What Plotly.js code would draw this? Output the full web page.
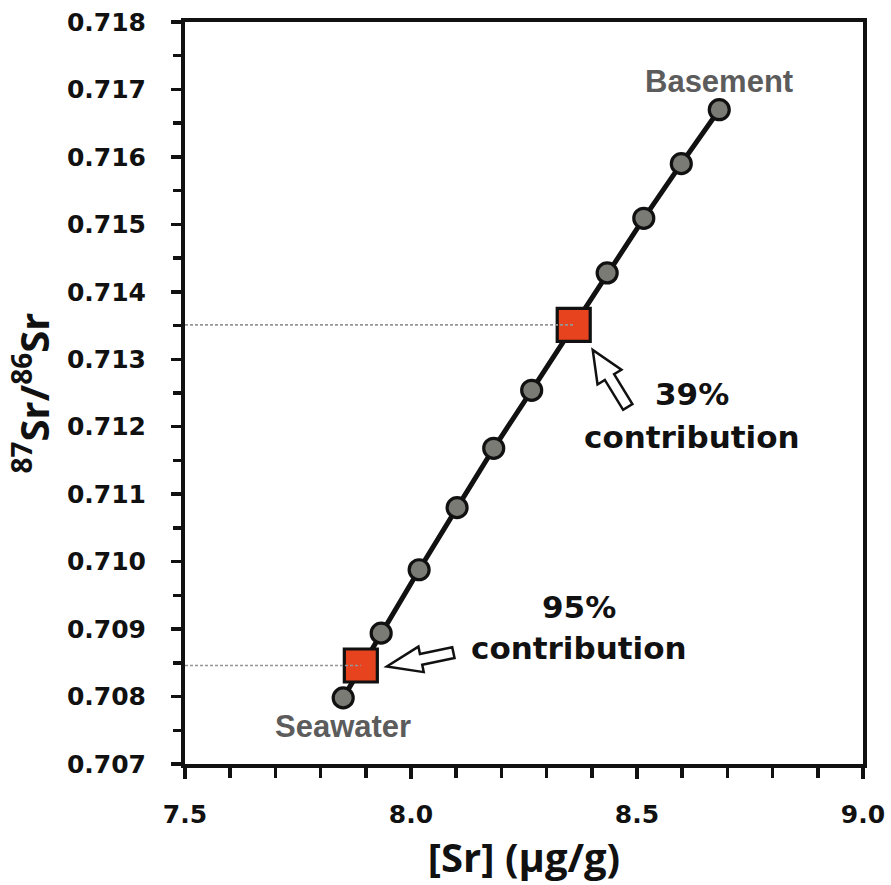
<!DOCTYPE html>
<html>
<head>
<meta charset="utf-8">
<script src="https://cdn.plot.ly/plotly-3.0.1.min.js"></script>
<style>html,body{margin:0;padding:0;background:#fff;}</style>
</head>
<body>
<div id="chart" style="width:891px;height:885px;"></div>
<script>
// Mixing curve points (seawater -> basement)
var mixX = [7.850, 7.934, 8.018, 8.102, 8.183, 8.267, 8.434, 8.515, 8.598, 8.682];
var mixY = [0.70798, 0.70894, 0.70988, 0.71080, 0.71168, 0.71254, 0.71428, 0.71509, 0.71590, 0.71670];
// Sample (red square) positions
var sampleX = [7.889, 8.360];
var sampleY = [0.70846, 0.71351];
var contribLabels = ['95%', '39%'];
var xTickVals = [7.5, 8.0, 8.5, 9.0];
var xTickText = ['7.5', '8.0', '8.5', '9.0'];
var yTickVals = [0.707, 0.708, 0.709, 0.710, 0.711, 0.712, 0.713, 0.714, 0.715, 0.716, 0.717, 0.718];
var yTickText = ['0.707', '0.708', '0.709', '0.710', '0.711', '0.712', '0.713', '0.714', '0.715', '0.716', '0.717', '0.718'];

var traces = [
  {x: mixX, y: mixY, mode: 'lines+markers', type: 'scatter',
   line: {color: '#111', width: 5},
   marker: {size: 20, color: '#7b7b76', line: {color: '#111', width: 3.2}},
   hoverinfo: 'x+y', showlegend: false},
  {x: sampleX, y: sampleY, mode: 'markers', type: 'scatter',
   marker: {symbol: 'square', size: 33, color: '#e8431f', line: {color: '#111', width: 3.2}},
   showlegend: false}
];
for (var i = 0; i < sampleX.length; i++) {
  traces.push({x: [7.5, sampleX[i]], y: [sampleY[i], sampleY[i]], mode: 'lines', type: 'scatter',
    line: {color: '#959595', width: 1.6, dash: '3px,2px'}, showlegend: false, hoverinfo: 'skip'});
}

// hollow block arrow, geometry in pixels relative to an anchor point
function arrowPath(tx, ty, dx, dy, L, H, W, w) {
  var n = Math.sqrt(dx*dx + dy*dy); dx /= n; dy /= n;
  var nx = -dy, ny = dx;
  var pts = [
    [tx, ty],
    [tx + dx*H + nx*W, ty + dy*H + ny*W],
    [tx + dx*H + nx*w, ty + dy*H + ny*w],
    [tx + dx*L + nx*w, ty + dy*L + ny*w],
    [tx + dx*L - nx*w, ty + dy*L - ny*w],
    [tx + dx*H - nx*w, ty + dy*H - ny*w],
    [tx + dx*H - nx*W, ty + dy*H - ny*W]
  ];
  return 'M' + pts.map(function(p){ return p[0].toFixed(1) + ',' + (-p[1]).toFixed(1); }).join(' L') + ' Z';
}
var arrowSpecs = [
  {tx: 26, ty: 1, dx: 67, dy: -14, L: 68, H: 35, W: 13, w: 5.5},
  {tx: 19, ty: 25, dx: 35, dy: 57, L: 67, H: 32, W: 14, w: 5.5}
];
var shapes = arrowSpecs.map(function(a, i) {
  return {type: 'path', xref: 'x', yref: 'y', xsizemode: 'pixel', ysizemode: 'pixel',
    xanchor: sampleX[i], yanchor: sampleY[i],
    path: arrowPath(a.tx, a.ty, a.dx, a.dy, a.L, a.H, a.W, a.w),
    fillcolor: '#fff', line: {color: '#111', width: 2.5}, layer: 'above'};
});

var blackFont = {family: 'DejaVu Sans', size: 31, color: '#111', weight: 'bold'};
var grayFont = {family: 'Liberation Sans, Arial', size: 31, color: '#5c5c5c', weight: 'bold'};
var annotations = [
  {x: mixX[mixX.length-1], y: mixY[mixY.length-1], text: '<b>Basement</b>', showarrow: false, xref: 'x', yref: 'y', yshift: 28, font: grayFont},
  {x: mixX[0], y: mixY[0], text: '<b>Seawater</b>', showarrow: false, xref: 'x', yref: 'y', yshift: -29, font: grayFont},
  {x: sampleX[1], y: sampleY[1], text: '<b>' + contribLabels[1] + '</b>', showarrow: false, xref: 'x', yref: 'y', xshift: 118, yshift: -69, font: blackFont},
  {x: sampleX[1], y: sampleY[1], text: '<b>contribution</b>', showarrow: false, xref: 'x', yref: 'y', xshift: 118, yshift: -112, font: blackFont},
  {x: sampleX[0], y: sampleY[0], text: '<b>' + contribLabels[0] + '</b>', showarrow: false, xref: 'x', yref: 'y', xshift: 218, yshift: 59, font: blackFont},
  {x: sampleX[0], y: sampleY[0], text: '<b>contribution</b>', showarrow: false, xref: 'x', yref: 'y', xshift: 218, yshift: 18, font: blackFont}
];

var tickFont = {family: 'DejaVu Sans', size: 25, color: '#111', weight: 'bold'};
var layout = {
  width: 891, height: 885,
  margin: {l: 185, r: 28, t: 22, b: 121},
  paper_bgcolor: '#fff', plot_bgcolor: '#fff',
  showlegend: false,
  xaxis: {
    range: [7.5, 9.0], tickvals: xTickVals, ticktext: xTickText,
    showgrid: false, zeroline: false,
    showline: true, linecolor: '#111', linewidth: 4, mirror: true,
    ticks: 'outside', ticklen: 11, tickwidth: 3.5, tickcolor: '#111',
    minor: {dtick: 0.1, tick0: 7.5, ticks: 'outside', ticklen: 10, tickwidth: 3.5, tickcolor: '#111', showgrid: false},
    tickfont: tickFont, ticklabelstandoff: 14,
    title: {text: '<b>[Sr] (µg/g)</b>', font: {family: 'Open Sans', size: 40, color: '#111'}, standoff: 6}
  },
  yaxis: {
    range: [0.707, 0.718], tickvals: yTickVals, ticktext: yTickText,
    showgrid: false, zeroline: false,
    showline: true, linecolor: '#111', linewidth: 4, mirror: true,
    ticks: 'outside', ticklen: 10, tickwidth: 3.5, tickcolor: '#111',
    minor: {dtick: 0.0005, tick0: 0.707, ticks: 'outside', ticklen: 8, tickwidth: 3.5, tickcolor: '#111', showgrid: false},
    tickfont: tickFont, ticklabelstandoff: 20,
    title: {text: '<b><sup>87</sup>Sr/<sup>86</sup>Sr</b>', font: {family: 'Open Sans', size: 40, color: '#111'}, standoff: 6}
  },
  shapes: shapes,
  annotations: annotations
};

Plotly.newPlot('chart', traces, layout, {displayModeBar: false, staticPlot: true});
</script>
</body>
</html>
